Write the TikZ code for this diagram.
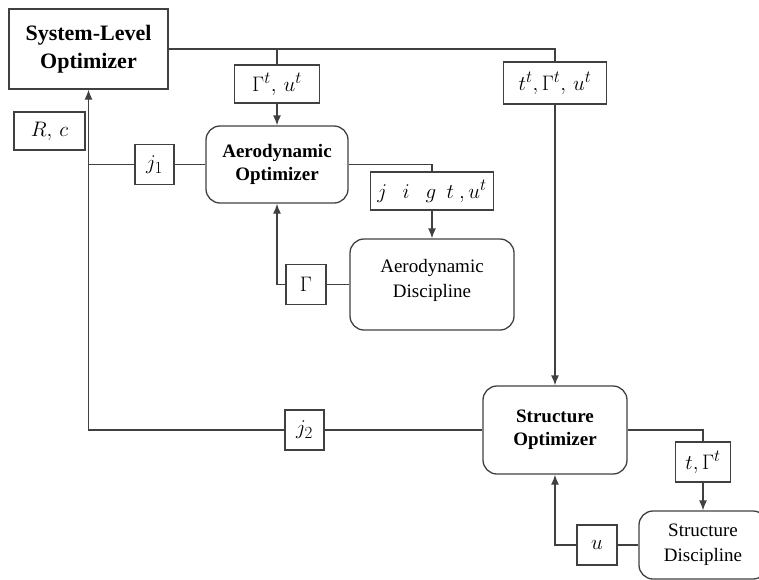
\documentclass[tikz,border=0pt]{standalone}
\usepackage{fix-cm}
\usepackage{fontspec}
\setmainfont{Liberation Serif}
\usetikzlibrary{arrows.meta}

\definecolor{linegray}{HTML}{404040}
\DeclareMathSizes{21}{21}{17}{13}

\tikzset{
  flow/.style={draw=linegray, line width=1.3pt},
  sysbox/.style={flow, align=center, inner sep=0pt,
    font=\bfseries\fontsize{22}{28}\selectfont},
  optbox/.style={flow, rounded corners=14pt, align=center, inner sep=0pt,
    font=\bfseries\fontsize{19}{23}\selectfont},
  discbox/.style={flow, rounded corners=14pt, align=center, inner sep=0pt,
    font=\fontsize{19}{25}\selectfont},
  varbox/.style={flow, inner sep=0pt, font=\fontsize{21}{25}\selectfont},
}

\begin{document}
\begin{tikzpicture}[x=1pt, y=-1pt, >={Latex[length=10pt,width=8pt]}]
      \useasboundingbox (0,0) rectangle (759,579);

      % Optimizers
      \node[sysbox, minimum width=159pt, minimum height=80pt] (slo) at (88.5,49)
      {System-Level\\Optimizer};
      \node[optbox, minimum width=142pt, minimum height=77pt] (aeroopt) at (277,164.5)
      {Aerodynamic\\Optimizer};
      \node[optbox, minimum width=144pt, minimum height=88pt] (strucopt) at (555,430)
      {Structure\\Optimizer};

      % Disciplines
      \node[discbox, minimum width=164pt, minimum height=91pt] (aerodisc) at (432,284.5)
      {Aerodynamic\\Discipline\\[-13pt]};
      \node[discbox, minimum width=128pt, minimum height=68pt] (strucdisc) at (703,545)
      {Structure\\Discipline};

      % Variables passed down
      \node[varbox, minimum width=85pt, minimum height=38pt] (gu) at (277,84)
      {$\Gamma^t,\, u^t$};
      \node[varbox, minimum width=103pt, minimum height=42pt] (tgu) at (555,83)
      {$t^t,\Gamma^t,\, u^t$};
      \node[varbox, minimum width=123pt, minimum height=38pt] (jig) at (432,191)
      {$j\ \ \ i\ \ \ g\ \ t\ ,u^t$};
      \node[varbox, minimum width=55pt, minimum height=40pt] (tg) at (703,462)
      {$t,\Gamma^t$};

      % Variables passed up
      \node[varbox, minimum width=71pt, minimum height=38pt] (rc) at (49.5,131)
      {$R,\, c$};
      \node[varbox, minimum width=39pt, minimum height=40pt] (j1) at (154.5,164.5)
      {$j_1$};
      \node[varbox, minimum width=40pt, minimum height=40pt] (gam) at (306,284.5)
      {$\Gamma$};
      \node[varbox, minimum width=39pt, minimum height=40pt] (j2) at (304.5,430)
      {$j_2$};
      \node[varbox, minimum width=40pt, minimum height=40pt] (u) at (597,545)
      {$u$};

      % Top level to sub-optimizers
      \draw[flow] (slo.east) -| (tgu.north);
      \draw[flow] (gu.north) -- (gu.north |- slo.east);
      \draw[flow, ->] (gu) -- (aeroopt);
      \draw[flow, ->] (tgu) -- (strucopt);

      % Aerodynamic loop
      \draw[flow] (aeroopt.east) -| (jig.north);
      \draw[flow, ->] (jig) -- (aerodisc);
      \draw[flow] (aerodisc) -- (gam);
      \draw[flow, ->] (gam.west) -| (aeroopt.south);

      % Structure loop
      \draw[flow] (strucopt.east) -| (tg.north);
      \draw[flow, ->] (tg) -- (strucdisc);
      \draw[flow] (strucdisc.west) -- (u);
      \draw[flow, ->] (u.west) -| (strucopt.south);

      % Back to system level
      \draw[flow] (aeroopt) -- (j1);
      \draw[flow] (j1.west) -- (j1.west -| slo.south);
      \draw[flow] (strucopt) -- (j2);
      \draw[flow, ->] (j2.west) -| (slo.south);
    \end{tikzpicture}
\end{document}
